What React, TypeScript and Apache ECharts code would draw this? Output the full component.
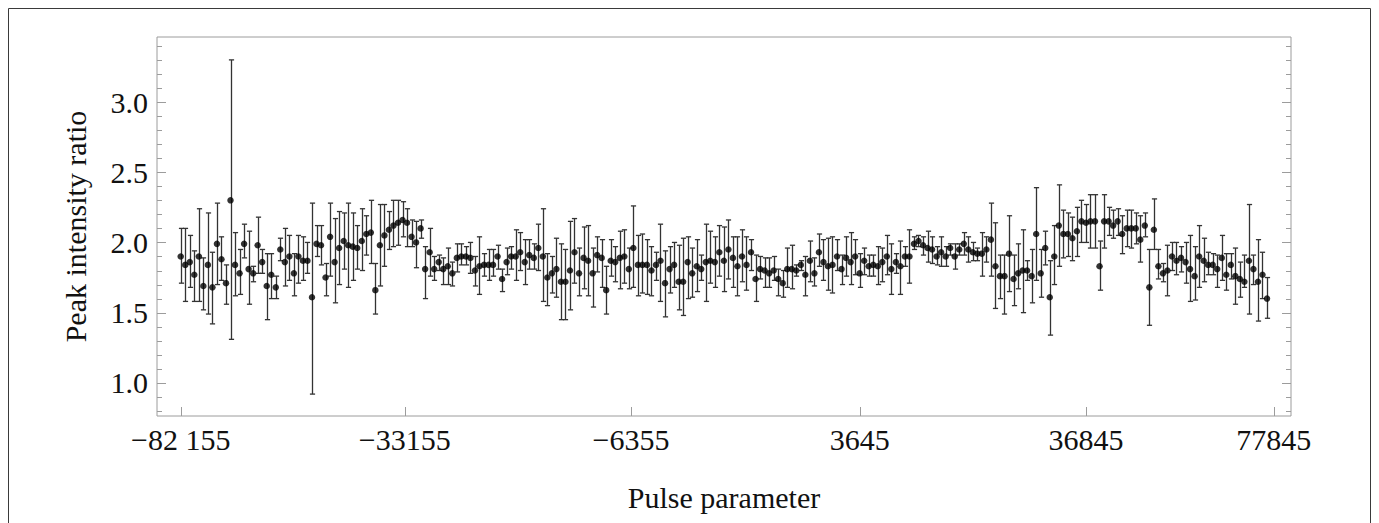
import React, { useEffect, useRef } from "react";
import * as echarts from "echarts";

// Peak intensity ratio (centre value) for each pulse, in order
const values = [
  1.90, 1.84, 1.86, 1.77, 1.90, 1.69, 1.84, 1.68, 1.99, 1.88,
  1.71, 2.30, 1.84, 1.78, 1.99, 1.81, 1.78, 1.98, 1.86, 1.69,
  1.77, 1.68, 1.95, 1.86, 1.90, 1.78, 1.90, 1.87, 1.87, 1.61,
  1.99, 1.98, 1.75, 2.04, 1.86, 1.96, 2.01, 1.98, 1.97, 1.96,
  2.01, 2.06, 2.07, 1.66, 1.98, 2.05, 2.09, 2.12, 2.14, 2.16,
  2.14, 2.04, 2.00, 2.10, 1.81, 1.93, 1.81, 1.86, 1.81, 1.83,
  1.78, 1.89, 1.90, 1.90, 1.89, 1.80, 1.83, 1.84, 1.84, 1.84,
  1.90, 1.74, 1.86, 1.90, 1.90, 1.93, 1.86, 1.91, 1.89, 1.96,
  1.90, 1.75, 1.78, 1.81, 1.72, 1.72, 1.80, 1.93, 1.78, 1.89,
  1.87, 1.78, 1.91, 1.89, 1.66, 1.87, 1.86, 1.89, 1.90, 1.81,
  1.96, 1.84, 1.84, 1.84, 1.80, 1.84, 1.87, 1.71, 1.81, 1.84,
  1.72, 1.72, 1.86, 1.78, 1.83, 1.81, 1.86, 1.87, 1.86, 1.93,
  1.87, 1.95, 1.89, 1.83, 1.90, 1.84, 1.93, 1.74, 1.81, 1.80,
  1.78, 1.80, 1.74, 1.71, 1.81, 1.81, 1.80, 1.84, 1.77, 1.87,
  1.78, 1.93, 1.86, 1.83, 1.84, 1.90, 1.81, 1.89, 1.86, 1.90,
  1.78, 1.87, 1.83, 1.84, 1.83, 1.86, 1.90, 1.81, 1.86, 1.83,
  1.90, 1.90, 1.99, 2.01, 1.98, 1.96, 1.95, 1.90, 1.93, 1.90,
  1.96, 1.90, 1.95, 1.99, 1.95, 1.93, 1.92, 1.92, 1.95, 2.02,
  1.83, 1.76, 1.76, 1.92, 1.74, 1.78, 1.80, 1.80, 1.76, 2.06,
  1.78, 1.96, 1.61, 1.90, 2.12, 2.06, 2.06, 2.03, 2.08, 2.15,
  2.14, 2.15, 2.15, 1.83, 2.15, 2.15, 2.12, 2.15, 2.06, 2.10,
  2.10, 2.10, 2.02, 2.12, 1.68, 2.09, 1.83, 1.78, 1.80, 1.90,
  1.87, 1.89, 1.86, 1.81, 1.76, 1.90, 1.87, 1.84, 1.84, 1.81,
  1.89, 1.77, 1.84, 1.76, 1.74, 1.72, 1.87, 1.81, 1.72, 1.77,
  1.60,
];

// Lower end of each error bar
const lower = [
  1.71, 1.58, 1.68, 1.58, 1.58, 1.52, 1.49, 1.42, 1.70, 1.73,
  1.56, 1.31, 1.62, 1.63, 1.89, 1.56, 1.72, 1.78, 1.78, 1.45,
  1.60, 1.60, 1.87, 1.69, 1.73, 1.62, 1.71, 1.73, 1.78, 0.92,
  1.90, 1.84, 1.62, 1.76, 1.57, 1.70, 1.81, 1.68, 1.73, 1.81,
  1.80, 1.91, 1.85, 1.49, 1.69, 1.83, 1.95, 1.97, 1.98, 2.04,
  1.97, 1.97, 1.82, 2.03, 1.60, 1.76, 1.73, 1.80, 1.70, 1.70,
  1.69, 1.79, 1.84, 1.84, 1.78, 1.69, 1.63, 1.76, 1.73, 1.76,
  1.81, 1.65, 1.77, 1.81, 1.73, 1.80, 1.70, 1.81, 1.81, 1.80,
  1.58, 1.55, 1.64, 1.61, 1.45, 1.45, 1.52, 1.71, 1.62, 1.67,
  1.62, 1.54, 1.79, 1.68, 1.49, 1.76, 1.72, 1.67, 1.71, 1.67,
  1.68, 1.62, 1.64, 1.63, 1.62, 1.73, 1.58, 1.47, 1.64, 1.68,
  1.52, 1.48, 1.60, 1.61, 1.65, 1.73, 1.58, 1.71, 1.68, 1.76,
  1.65, 1.74, 1.68, 1.62, 1.72, 1.66, 1.80, 1.58, 1.74, 1.68,
  1.68, 1.73, 1.62, 1.61, 1.68, 1.67, 1.76, 1.80, 1.62, 1.72,
  1.69, 1.83, 1.73, 1.66, 1.64, 1.80, 1.70, 1.76, 1.70, 1.77,
  1.68, 1.77, 1.76, 1.76, 1.70, 1.72, 1.77, 1.63, 1.78, 1.63,
  1.83, 1.71, 1.95, 1.97, 1.91, 1.86, 1.85, 1.84, 1.83, 1.83,
  1.91, 1.81, 1.91, 1.91, 1.86, 1.87, 1.87, 1.76, 1.86, 1.76,
  1.53, 1.60, 1.49, 1.65, 1.55, 1.67, 1.50, 1.73, 1.57, 1.73,
  1.61, 1.84, 1.34, 1.70, 1.83, 1.89, 1.90, 1.87, 1.90, 2.00,
  2.00, 1.96, 1.96, 1.66, 1.96, 2.05, 2.03, 2.05, 1.92, 1.97,
  1.96, 1.99, 1.86, 2.04, 1.41, 1.95, 1.74, 1.72, 1.62, 1.80,
  1.77, 1.79, 1.71, 1.58, 1.59, 1.68, 1.72, 1.77, 1.77, 1.68,
  1.73, 1.66, 1.74, 1.56, 1.61, 1.68, 1.49, 1.70, 1.44, 1.60,
  1.46,
];

// Upper end of each error bar
const upper = [
  2.10, 2.10, 2.05, 1.94, 2.24, 1.89, 2.21, 1.93, 2.28, 2.04,
  1.84, 3.30, 2.07, 1.95, 2.13, 2.08, 1.83, 2.18, 1.95, 1.92,
  1.92, 1.76, 2.03, 2.10, 2.05, 1.92, 2.05, 2.04, 2.00, 2.28,
  2.12, 2.12, 1.85, 2.28, 2.17, 2.22, 2.21, 2.28, 2.21, 2.12,
  2.24, 2.19, 2.30, 1.85, 2.27, 2.27, 2.22, 2.30, 2.30, 2.29,
  2.24, 2.16, 2.15, 2.16, 1.97, 2.10, 1.90, 1.91, 1.89, 1.96,
  1.86, 1.99, 1.99, 1.97, 2.00, 1.90, 2.04, 1.92, 1.95, 1.95,
  1.98, 1.81, 1.96, 1.97, 2.09, 2.07, 2.02, 2.02, 1.99, 2.13,
  2.24, 1.92, 1.90, 2.03, 1.99, 1.95, 2.15, 2.17, 1.96, 2.11,
  2.12, 1.96, 2.04, 2.02, 1.83, 2.02, 1.97, 2.08, 2.09, 1.96,
  2.26, 2.05, 2.06, 2.02, 1.97, 1.93, 2.13, 1.94, 1.97, 2.00,
  1.98, 2.03, 2.04, 1.96, 2.02, 1.91, 2.13, 2.08, 2.04, 2.12,
  2.11, 2.16, 2.04, 2.04, 2.09, 2.04, 2.02, 1.91, 1.90, 1.89,
  1.89, 1.90, 1.81, 1.80, 1.96, 1.98, 1.84, 1.87, 1.90, 2.01,
  1.89, 2.06, 2.02, 2.03, 2.04, 2.02, 1.91, 2.04, 2.07, 2.02,
  1.92, 1.96, 1.91, 1.91, 1.97, 1.96, 2.05, 1.99, 1.92, 2.01,
  1.97, 2.09, 2.04, 2.05, 2.04, 2.08, 2.04, 1.97, 2.04, 1.97,
  1.99, 1.99, 1.99, 2.07, 2.04, 2.00, 1.96, 2.07, 2.04, 2.28,
  2.14, 1.91, 1.91, 2.19, 1.91, 1.99, 2.09, 1.87, 1.95, 2.39,
  1.95, 2.08, 1.87, 2.12, 2.41, 2.23, 2.21, 2.18, 2.25, 2.30,
  2.27, 2.34, 2.34, 2.01, 2.34, 2.25, 2.23, 2.24, 2.19, 2.23,
  2.23, 2.21, 2.19, 2.21, 1.95, 2.31, 1.95, 1.85, 1.98, 2.00,
  2.00, 1.97, 2.00, 2.05, 1.97, 2.12, 2.03, 1.93, 1.92, 1.91,
  2.05, 1.92, 1.92, 1.96, 1.86, 1.91, 2.27, 1.91, 2.02, 1.93,
  1.75,
];

// Bottom axis tick positions (in pulse index) and their labels
const xTickPositions = [0, 49.5, 99.5, 150, 200, 241.5];
const xTickLabels = ["\u221282 155", "\u221233155", "\u22126355", "3645", "36845", "77845"];

// Left / right axis ticks
const yMajorTicks = [1.0, 1.5, 2.0, 2.5, 3.0];
const yMinorTicks = [
  0.8, 0.9, 1.1, 1.2, 1.3, 1.4, 1.6, 1.7, 1.8, 1.9,
  2.1, 2.2, 2.3, 2.4, 2.6, 2.7, 2.8, 2.9, 3.1, 3.2, 3.3, 3.4,
];

const FONT = '"Liberation Serif", "DejaVu Serif", serif';
const FRAME = "#9c9c9c";
const TEXT = "#111111";
const FS = 30;

export default function App() {
  const ref = useRef<HTMLDivElement>(null);

  useEffect(() => {
    if (!ref.current) return;
    const chart = echarts.init(ref.current, undefined, { renderer: "svg" });

    const xMin = -5.24;
    const xMax = 245.3;
    const yMin = 0.764;
    const yMax = 3.463;

    const pts = values.map((v, i) => [i, v]);
    const bars = values.map((_, i) => [i, lower[i], upper[i]]);

    const tickStyle = { stroke: FRAME, lineWidth: 1 };

    const yTickSeries = (ticks: number[], len: number, name: string) => ({
      type: "custom",
      name,
      data: ticks.map((v) => [xMin, v]),
      encode: { x: 0, y: 1 },
      silent: true,
      clip: false,
      z: 1,
      renderItem: (params: any, api: any) => {
        const cs = params.coordSys;
        const p = api.coord([api.value(0), api.value(1)]);
        const y = Math.round(p[1]) + 0.5;
        const xl = cs.x;
        const xr = cs.x + cs.width;
        return {
          type: "group",
          children: [
            { type: "line", shape: { x1: xl, y1: y, x2: xl + len, y2: y }, style: tickStyle },
            { type: "line", shape: { x1: xr, y1: y, x2: xr - len, y2: y }, style: tickStyle },
          ],
        };
      },
    });

    chart.setOption({
      animation: false,
      backgroundColor: "#ffffff",
      grid: {
        left: 157,
        top: 37,
        right: 88,
        bottom: 107,
        show: true,
        borderColor: FRAME,
        borderWidth: 1,
        backgroundColor: "transparent",
      },
      graphic: [
        {
          type: "rect",
          shape: { x: 8.5, y: 8.5, width: 1362, height: 530 },
          style: { fill: "none", stroke: "#3a3a3a", lineWidth: 1 },
          silent: true,
        },
      ],
      xAxis: {
        type: "value",
        min: xMin,
        max: xMax,
        name: "Pulse parameter",
        nameLocation: "middle",
        nameGap: 66,
        nameTextStyle: { fontFamily: FONT, fontSize: FS, color: TEXT },
        splitLine: { show: false },
        axisLine: { show: false, onZero: false },
        axisTick: { show: false },
        axisLabel: {
          customValues: xTickPositions,
          margin: 8,
          fontFamily: FONT,
          fontSize: FS,
          color: TEXT,
          hideOverlap: false,
          formatter: (v: number) => {
            const k = xTickPositions.indexOf(v);
            return k >= 0 ? xTickLabels[k] : "";
          },
        },
      },
      yAxis: {
        type: "value",
        min: yMin,
        max: yMax,
        position: "left",
        name: "Peak intensity ratio",
        nameLocation: "middle",
        nameGap: 67,
        nameTextStyle: { fontFamily: FONT, fontSize: FS, color: TEXT },
        splitLine: { show: false },
        axisLine: { show: false, onZero: false },
        axisTick: { show: false },
        axisLabel: {
          customValues: yMajorTicks,
          margin: 9,
          fontFamily: FONT,
          fontSize: FS,
          color: TEXT,
          formatter: (v: number) => v.toFixed(1),
        },
      },
      series: [
        {
          type: "custom",
          name: "bottom ticks",
          data: xTickPositions.map((p) => [p, yMin]),
          encode: { x: 0, y: 1 },
          silent: true,
          clip: false,
          z: 1,
          renderItem: (params: any, api: any) => {
            const cs = params.coordSys;
            const p = api.coord([api.value(0), api.value(1)]);
            const x = Math.round(p[0]) + 0.5;
            const yb = cs.y + cs.height;
            return { type: "line", shape: { x1: x, y1: yb, x2: x, y2: yb - 9 }, style: tickStyle };
          },
        },
        yTickSeries(yMajorTicks, 9, "major ticks"),
        yTickSeries(yMinorTicks, 5, "minor ticks"),
        {
          type: "custom",
          name: "error",
          encode: { x: 0, y: [1, 2] },
          data: bars,
          silent: true,
          z: 2,
          renderItem: (params: any, api: any) => {
            const x = api.value(0);
            const lo = api.coord([x, api.value(1)]);
            const hi = api.coord([x, api.value(2)]);
            const px = Math.round(lo[0]) + 0.5;
            const hw = 2.6;
            const st = { stroke: "#333333", lineWidth: 1.3 };
            return {
              type: "group",
              children: [
                { type: "line", shape: { x1: px, y1: lo[1], x2: px, y2: hi[1] }, style: st },
                { type: "line", shape: { x1: px - hw, y1: lo[1], x2: px + hw, y2: lo[1] }, style: st },
                { type: "line", shape: { x1: px - hw, y1: hi[1], x2: px + hw, y2: hi[1] }, style: st },
              ],
            };
          },
        },
        {
          type: "scatter",
          name: "ratio",
          data: pts,
          symbol: "circle",
          symbolSize: 6.5,
          itemStyle: { color: "#000000" },
          silent: true,
          z: 3,
        },
      ],
    });

    return () => chart.dispose();
  }, []);

  return (
    <div
      ref={ref}
      style={{ position: "fixed", left: 0, top: 0, width: 1379, height: 523, background: "#fff" }}
    />
  );
}
